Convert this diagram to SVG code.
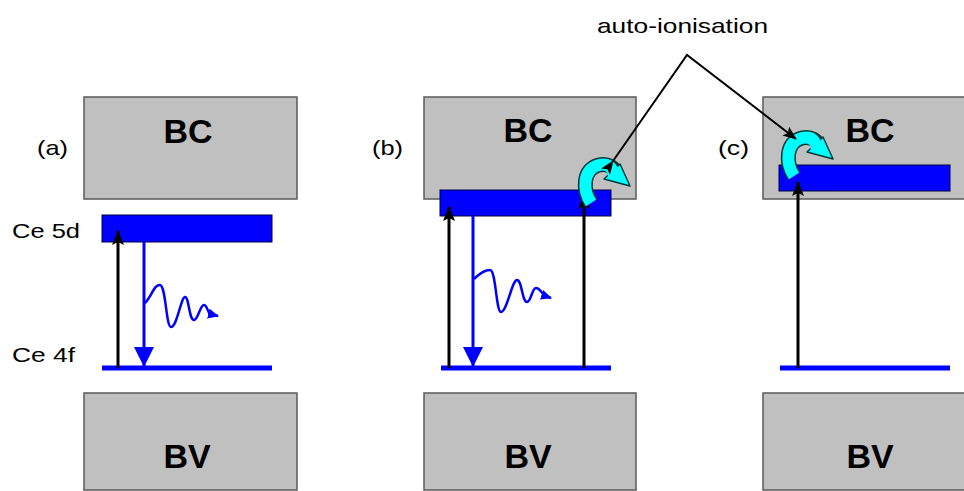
<svg xmlns="http://www.w3.org/2000/svg" xmlns:xlink="http://www.w3.org/1999/xlink" width="964" height="491" viewBox="0 0 964 491">
<style>
.band{fill:#c0c0c0;stroke:#5a5a5a;stroke-width:1.5}
.big{font-family:"Liberation Sans",Arial,sans-serif;font-weight:bold;font-size:34px;fill:#000;text-anchor:middle}
.lbl{font-family:"Liberation Sans",Arial,sans-serif;font-size:21px;fill:#000}
.lvl{fill:#0000ff;stroke:#000040;stroke-width:1}
.f{stroke:#0000ff;stroke-width:5}
.blk{stroke:#000;stroke-width:3;fill:none}
.bl{stroke:#0000ff;stroke-width:3;fill:none}
.wave{stroke:#0000ff;stroke-width:2.5;fill:none}
.ptr{stroke:#000;stroke-width:2;fill:none}
</style>
<defs>
<marker id="ah" markerWidth="15" markerHeight="12" refX="14" refY="6" orient="auto" markerUnits="userSpaceOnUse"><path d="M0,0 L15,6 L0,12 L3,6 Z" fill="#000"/></marker>
<marker id="ahb" markerWidth="20" markerHeight="20" refX="19" refY="10" orient="auto" markerUnits="userSpaceOnUse"><path d="M0,0 L20,10 L0,20 Z" fill="#0000ff"/></marker>
<marker id="ahw" markerWidth="11" markerHeight="10" refX="10" refY="5" orient="auto" markerUnits="userSpaceOnUse"><path d="M0,0 L11,5 L0,10 Z" fill="#0000ff"/></marker>
<marker id="ahp" markerWidth="14" markerHeight="11" refX="13" refY="5.5" orient="auto" markerUnits="userSpaceOnUse"><path d="M0,0 L14,5.5 L0,11 L3,5.5 Z" fill="#000"/></marker>
<g id="curl">
<path d="M591,203 C582,189 583,169 599,165 C608,163 614,167 616,174" fill="none" stroke="#003838" stroke-width="15"/>
<path d="M604,179 L620,164 L630,186 Z" fill="#00ffff" stroke="#003838" stroke-width="1.5" stroke-linejoin="round"/>
<path d="M591,203 C582,189 583,169 599,165 C608,163 613,167 614,177" fill="none" stroke="#00ffff" stroke-width="12"/>
</g>
</defs>

<g id="panel-a">
<rect class="band" x="84" y="97" width="213" height="102"/>
<text class="big" x="188" y="143">BC</text>
<rect class="band" x="84" y="393" width="213" height="97"/>
<text class="big" x="187" y="468">BV</text>
<text class="lbl" x="37" y="155" textLength="31" lengthAdjust="spacingAndGlyphs">(a)</text>
<text class="lbl" x="12" y="238" textLength="68" lengthAdjust="spacingAndGlyphs">Ce 5d</text>
<text class="lbl" x="12" y="362" textLength="63" lengthAdjust="spacingAndGlyphs">Ce 4f</text>
<rect class="lvl" x="102" y="215" width="170" height="27"/>
<line class="f" x1="102" y1="368" x2="272" y2="368"/>
</g>

<g id="panel-b">
<rect class="band" x="424" y="97" width="212" height="102"/>
<text class="big" x="528" y="142">BC</text>
<rect class="band" x="424" y="393" width="212" height="97"/>
<text class="big" x="528" y="468">BV</text>
<text class="lbl" x="372" y="155" textLength="31" lengthAdjust="spacingAndGlyphs">(b)</text>
<rect class="lvl" x="440" y="190" width="171" height="26"/>
<line class="f" x1="441" y1="368" x2="611" y2="368"/>
</g>

<g id="panel-c">
<rect class="band" x="763" y="97" width="210" height="102"/>
<text class="big" x="870" y="142">BC</text>
<rect class="band" x="763" y="393" width="210" height="97"/>
<text class="big" x="870" y="468">BV</text>
<text class="lbl" x="718" y="155" textLength="31" lengthAdjust="spacingAndGlyphs">(c)</text>
<rect class="lvl" x="779" y="165" width="171" height="26"/>
<line class="f" x1="780" y1="368" x2="950" y2="368"/>
</g>

<g id="label-auto">
<text class="lbl" x="597" y="33" textLength="171" lengthAdjust="spacingAndGlyphs">auto-ionisation</text>
</g>

<g id="connectors">
<line class="blk" x1="118" y1="368" x2="118" y2="231" marker-end="url(#ah)"/>
<line class="bl" x1="144" y1="242" x2="144" y2="366" marker-end="url(#ahb)"/>
<path class="wave" d="M145,303 C152,296 154,284 160,285 C166,286 166,327 171,327 C177,327 181,297 185,297 C189,297 189,320 194,320 C198,320 200,305 204,305 C207,305 208,313 210,314 L218,316" marker-end="url(#ahw)"/>

<line class="blk" x1="449" y1="368" x2="449" y2="207" marker-end="url(#ah)"/>
<line class="blk" x1="584" y1="368" x2="584" y2="195" marker-end="url(#ah)"/>
<line class="bl" x1="473" y1="216" x2="473" y2="366" marker-end="url(#ahb)"/>
<path class="wave" d="M474,279 C479,274 484,270 490,270 C496,270 496,312 501,312 C507,312 512,280 517,280 C522,280 522,302 527,302 C531,302 532,288 536,288 C540,288 542,294 545,296 L551,298" marker-end="url(#ahw)"/>

<line class="blk" x1="798" y1="368" x2="798" y2="182" marker-end="url(#ah)"/>

<use xlink:href="#curl"/>
<use xlink:href="#curl" transform="translate(203,-27)"/>

<polyline class="ptr" points="613,161 687,55 796,139" marker-start="url(#ahp)" marker-end="url(#ahp)"/>
</g>
</svg>
